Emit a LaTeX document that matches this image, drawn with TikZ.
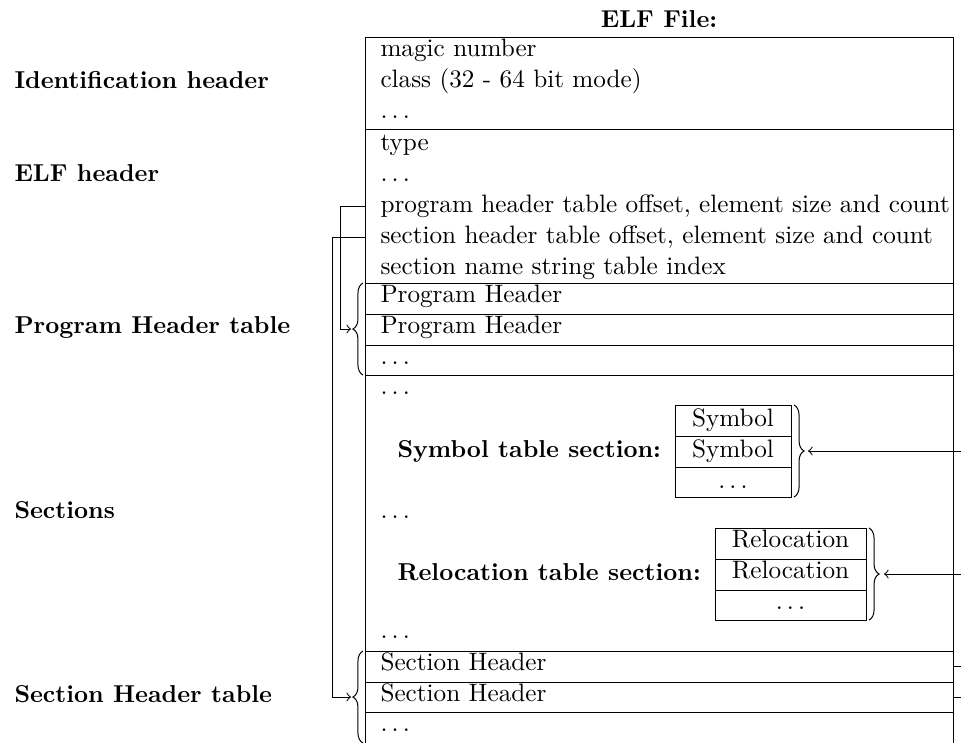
\documentclass[tikz,border=0pt]{standalone}
\usetikzlibrary{decorations.pathreplacing}
\newcommand{\vdotsrow}{$\ldots$}
\begin{document}
\begin{tikzpicture}[x=0.397pt,y=-0.397pt,
  lbl/.style={font=\fontsize{9.7}{12}\selectfont\bfseries, anchor=base west, inner sep=0pt},
  txt/.style={anchor=base west, inner sep=0pt},
  ctr/.style={anchor=base, inner sep=0pt},
  frame/.style={draw=black, line width=0.4pt},
  bracedeco/.style={draw=black, line width=0.4pt, decorate, decoration={brace, amplitude=4pt}},
  conn/.style={draw=black, line width=0.4pt, ->}
]
\useasboundingbox (0,0) rectangle (961,742);
\clip (0,0) rectangle (961,742);

% title
\node[font=\fontsize{9.7}{12}\selectfont\bfseries, anchor=base, inner sep=0pt] (title) at (659,27) {ELF File:};

% main frame
\draw[frame] (365,37) rectangle (953,760);
\foreach \yy in {129,283,314,345,375,651,682,712}
  \draw[frame] (365,\yy) -- (953,\yy);

% identification block
\node[txt] (magic) at (380,56) {magic number};
\node[txt] (class) at (380,87) {class (32 - 64 bit mode)};
\node[txt] (iddots) at (380,118) {\vdotsrow};

% ELF header block
\node[txt] (type) at (380,150) {type};
\node[txt] (elfdots) at (380,181) {\vdotsrow};
\node[txt] (phoff) at (380,212) {program header table offset, element size and count};
\node[txt] (shoff) at (380,243) {section header table offset, element size and count};
\node[txt] (shstr) at (380,274) {section name string table index};

% program header rows
\node[txt] (ph1) at (380,302) {Program Header};
\node[txt] (ph2) at (380,333) {Program Header};
\node[txt] (ph3) at (380,364) {\vdotsrow};

% sections
\node[txt] (sdots1) at (380,394) {\vdotsrow};
\node[lbl] (symlbl) at (397,457) {Symbol table section:};
\node[txt] (sdots2) at (380,518) {\vdotsrow};
\node[lbl] (rellbl) at (397,580) {Relocation table section:};
\node[txt] (sdots3) at (380,638) {\vdotsrow};

% section header rows
\node[txt] (sh1) at (380,670) {Section Header};
\node[txt] (sh2) at (380,701) {Section Header};
\node[txt] (sh3) at (380,731) {\vdotsrow};

% symbol table
\draw[frame] (675,405) rectangle (791,497);
\draw[frame] (675,436) -- (791,436);
\draw[frame] (675,467) -- (791,467);
\node[ctr] (sym1) at (733,426) {Symbol};
\node[ctr] (sym2) at (733,457) {Symbol};
\node[ctr] (sym3) at (733,488) {\vdotsrow};

% relocation table
\draw[frame] (715,528) rectangle (866,620);
\draw[frame] (715,559) -- (866,559);
\draw[frame] (715,590) -- (866,590);
\node[ctr] (rel1) at (790.5,547) {Relocation};
\node[ctr] (rel2) at (790.5,578) {Relocation};
\node[ctr] (rel3) at (790.5,609) {\vdotsrow};

% left labels
\node[lbl] (lid) at (14,88) {Identification header};
\node[lbl] (lelf) at (14,181) {ELF header};
\node[lbl] (lpht) at (14,333) {Program Header table};
\node[lbl] (lsec) at (14,518) {Sections};
\node[lbl] (lsht) at (14,702) {Section Header table};

% braces
\draw[bracedeco] (363,375) -- (363,283);
\draw[bracedeco] (363,743) -- (363,651);
\draw[bracedeco] (794,405) -- (794,497);
\draw[bracedeco] (869,528) -- (869,620);

% connector coordinates
\coordinate (phsrc) at (365,206);
\coordinate (shsrc) at (365,237);
\coordinate (phdst) at (351,329);
\coordinate (shdst) at (351,697);
\coordinate (sh1src) at (953,666);
\coordinate (sh2src) at (953,697);
\coordinate (reldst) at (884,574);
\coordinate (symdst) at (808,451);

\draw[conn] (phsrc) -- (340,206) -- (340,329) -- (phdst);
\draw[conn] (shsrc) -- (332,237) -- (332,697) -- (shdst);
\draw[conn] (sh1src) -- (961,666) -- (961,574) -- (reldst);
\draw[conn] (sh2src) -- (1000,697) -- (1000,451) -- (symdst);
\end{tikzpicture}
\end{document}
